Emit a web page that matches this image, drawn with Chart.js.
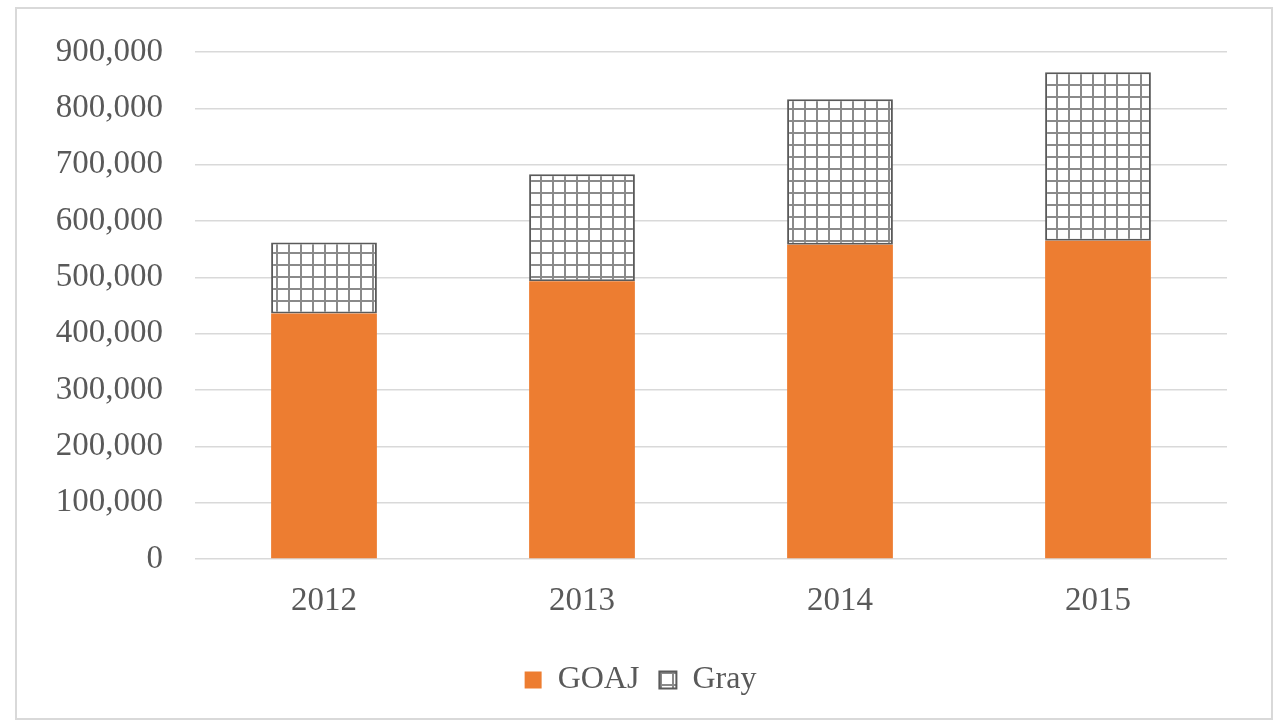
<!DOCTYPE html>
<html>
<head>
<meta charset="utf-8">
<script src="https://cdn.jsdelivr.net/npm/chart.js@4/dist/chart.umd.min.js"></script>
<style>
    html, body { margin: 0; padding: 0; background: #fff; }
    #frame {
        position: absolute; left: 15px; top: 7px;
        width: 1254px; height: 709px;
        border: 2px solid #d9d9d9;
    }
    #chart { position: absolute; left: 0; top: 0; }
</style>
</head>
<body>
<div id="frame"></div>
<canvas id="chart" width="1281" height="728"></canvas>
<script>
const years = ['2012', '2013', '2014', '2015'];
const goajValues = [436000, 493000, 558000, 565000];
const grayValues = [126000, 190000, 258000, 299000];
const yMax = 900000;
const yStep = 100000;

const orange = '#ed7d31';
const textGray = '#595959';
const serif = "'Liberation Serif', 'DejaVu Serif', serif";

// small grid hatch like the excel "large grid" fill
function makeGridPattern() {
    const c = document.createElement('canvas');
    c.width = 12;
    c.height = 12;
    const g = c.getContext('2d');
    g.fillStyle = '#ffffff';
    g.fillRect(0, 0, 12, 12);
    g.fillStyle = '#8a8a8a';
    g.fillRect(0, 0, 12, 2);
    g.fillRect(0, 0, 2, 12);
    return g.createPattern(c, 'repeat');
}
const gridPattern = makeGridPattern();

new Chart(document.getElementById('chart'), {
    type: 'bar',
    data: {
        labels: years,
        datasets: [{
            label: 'GOAJ',
            data: goajValues,
            backgroundColor: orange,
            borderWidth: 0,
            barPercentage: 0.41,
            categoryPercentage: 1,
        }, {
            label: 'Gray',
            data: grayValues,
            backgroundColor: gridPattern,
            borderColor: '#5a5a5a',
            borderWidth: 2,
            borderSkipped: false,
            barPercentage: 0.41,
            categoryPercentage: 1,
        }]
    },
    options: {
        responsive: false,
        animation: false,
        layout: {
            padding: { left: 0, right: 0, top: 52, bottom: 22 }
        },
        scales: {
            x: {
                stacked: true,
                grid: { display: false, drawTicks: false },
                border: { display: false },
                ticks: {
                    color: textGray,
                    font: { family: serif, size: 33 },
                    padding: 23,
                },
                afterFit: scale => { scale.height = 85; }
            },
            y: {
                stacked: true,
                min: 0,
                max: yMax,
                grid: { color: '#d9d9d9', lineWidth: 1.5, drawTicks: false },
                border: { display: false },
                ticks: {
                    stepSize: yStep,
                    color: textGray,
                    font: { family: serif, size: 33 },
                    padding: 32,
                    callback: v => v.toLocaleString('en-US'),
                },
                afterFit: scale => { scale.width = 195; }
            },
            // empty right axis, only keeps the right margin so the legend stays centred on the page
            yRight: {
                position: 'right',
                grid: { display: false, drawTicks: false },
                border: { display: false },
                ticks: { display: false },
                afterFit: scale => { scale.width = 54; }
            }
        },
        plugins: {
            legend: {
                position: 'bottom',
                labels: {
                    color: textGray,
                    font: { family: serif, size: 32 },
                    boxWidth: 17,
                    boxHeight: 17,
                    padding: 20,
                }
            },
            tooltip: { enabled: false }
        }
    }
});
</script>
</body>
</html>
